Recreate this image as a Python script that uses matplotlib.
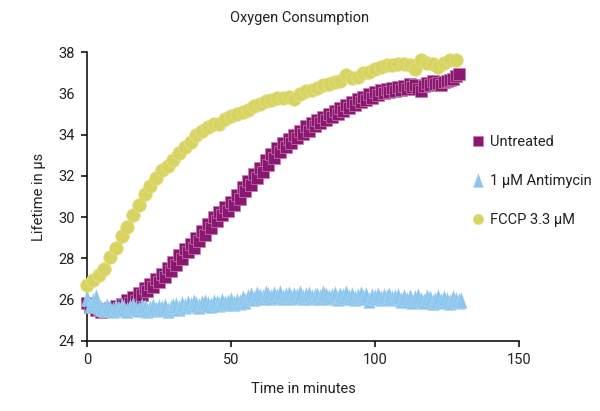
#!/usr/bin/env python3

import numpy as np
import matplotlib
matplotlib.use('Agg')
import matplotlib.pyplot as plt
from matplotlib.lines import Line2D

plt.rcParams['font.family'] = ['Roboto', 'DejaVu Sans']

untreated = [
    25.85, 25.65, 25.70, 25.50, 25.55, 25.40, 25.50, 25.45, 25.60, 25.50,
    25.70, 25.60, 25.80, 25.75, 26.00, 25.85, 26.10, 25.95, 26.30, 26.20,
    26.55, 26.40, 26.75, 26.60, 27.00, 26.85, 27.25, 27.10, 27.55, 27.40,
    27.80, 27.65, 28.15, 27.95, 28.45, 28.30, 28.70, 28.50, 29.00, 28.85,
    29.30, 29.15, 29.65, 29.45, 30.00, 29.80, 30.25, 30.10, 30.50, 30.30,
    30.75, 30.60, 31.05, 30.90, 31.45, 31.25, 31.75, 31.55, 32.10, 31.90,
    32.40, 32.20, 32.75, 32.55, 33.05, 32.85, 33.35, 33.15, 33.60, 33.40,
    33.80, 33.60, 34.00, 33.85, 34.20, 34.05, 34.40, 34.20, 34.55, 34.40,
    34.70, 34.55, 34.85, 34.70, 35.00, 34.85, 35.15, 35.00, 35.30, 35.15,
    35.45, 35.30, 35.60, 35.45, 35.75, 35.60, 35.85, 35.70, 35.95, 35.80,
    36.05, 35.90, 36.15, 36.00, 36.20, 36.05, 36.25, 36.10, 36.30, 36.15,
    36.35, 36.20, 36.45, 36.30, 36.40, 36.20, 36.10, 36.35, 36.50, 36.40,
    36.60, 36.45, 36.50, 36.40, 36.55, 36.60, 36.65, 36.70, 36.85, 36.95,
]

antimycin = [
    26.05, 25.75, 25.95, 26.10, 25.70, 25.60, 25.55, 25.70, 25.60, 25.50,
    25.65, 25.55, 25.70, 25.60, 25.50, 25.65, 25.75, 25.60, 25.55, 25.70,
    25.65, 25.50, 25.60, 25.70, 25.55, 25.65, 25.60, 25.70, 25.50, 25.60,
    25.70, 25.75, 25.60, 25.80, 25.70, 25.85, 25.75, 25.90, 25.80, 25.70,
    25.85, 25.90, 25.80, 25.75, 25.90, 25.85, 25.80, 25.95, 25.85, 25.90,
    26.00, 25.85, 25.95, 25.90, 26.05, 25.95, 26.10, 26.20, 26.05, 26.25,
    26.15, 26.10, 26.30, 26.20, 26.10, 26.25, 26.15, 26.30, 26.10, 26.20,
    26.25, 26.10, 26.20, 26.15, 26.30, 26.10, 26.20, 26.25, 26.10, 26.15,
    26.20, 26.10, 26.30, 26.20, 26.10, 26.15, 26.25, 26.05, 26.20, 26.15,
    26.30, 26.10, 26.20, 26.05, 26.15, 26.25, 26.10, 26.20, 26.00, 26.15,
    26.10, 26.20, 26.05, 26.15, 26.10, 26.20, 26.05, 26.10, 26.15, 26.00,
    26.10, 26.00, 26.10, 25.95, 26.05, 26.15, 26.00, 25.95, 26.10, 26.05,
    25.90, 26.00, 26.10, 25.95, 26.05, 26.00, 25.90, 26.05, 26.00, 25.95,
    26.00,
]

fccp = [
    26.70, 26.95, 27.20, 27.50, 28.05, 28.50, 29.10, 29.50, 30.10, 30.60,
    31.10, 31.50, 31.90, 32.30, 32.50, 32.75, 33.10, 33.40, 33.65, 34.00,
    34.20, 34.35, 34.50, 34.50, 34.75, 34.90, 35.00, 35.10, 35.20, 35.40,
    35.50, 35.65, 35.70, 35.80, 35.80, 35.85, 35.75, 35.95, 36.10, 36.15,
    36.25, 36.40, 36.45, 36.55, 36.60, 36.90, 36.75, 36.80, 37.00, 37.05,
    37.20, 37.30, 37.40, 37.40, 37.45, 37.45, 37.40, 37.20, 37.60, 37.50,
    37.45, 37.30, 37.50, 37.60, 37.60,
]

labels = ['Untreated', '1 µM Antimycin', 'FCCP 3.3 µM']

t_untreated = np.arange(len(untreated))      # 1 Minute Abstand
t_antimycin = np.arange(len(antimycin))
t_fccp = np.arange(len(fccp)) * 2            # 2 Minuten Abstand

fig = plt.figure(figsize=(6, 4.11), dpi=100)
ax = fig.add_axes([0.145, 0.171, 0.72, 0.702])

tri = [(0, 1), (-0.72, -1), (0.72, -1)]
c_unt, e_unt = '#8b1870', '#c77aae'
c_ant, e_ant = '#8cc6ec', '#aad6f3'
c_fc, e_fc = '#d8d462', '#e4e08a'

ax.plot(t_untreated, untreated, 's', ms=8.3, color=c_unt, mec=e_unt, mew=0.5,
        clip_on=False, zorder=2)
ax.plot(t_antimycin, antimycin, marker=tri, ls='none', ms=11.5, color=c_ant,
        mec=e_ant, mew=0.4, clip_on=False, zorder=3)
ax.plot(t_fccp, fccp, 'o', ms=9.8, color=c_fc, mec=e_fc, mew=0.5,
        clip_on=False, zorder=4)

ax.set_xlim(0, 150)
ax.set_ylim(24, 38)
ax.set_xticks([0, 50, 100, 150])
ax.set_yticks(range(24, 39, 2))
ax.spines[['top', 'right']].set_visible(False)
for s in ['left', 'bottom']:
    ax.spines[s].set_linewidth(1.1)
ax.tick_params(length=4, width=1.1, labelsize=10.5, labelcolor='#222', pad=5)
# in der Vorlage fehlt der Strich bei 36
ax.yaxis.get_major_ticks()[6].tick1line.set_visible(False)

ax.set_xlabel('Time in minutes', fontsize=10.5, color='#222', labelpad=11)
ax.set_ylabel('Lifetime in µs', fontsize=10.5, color='#222', labelpad=9)
fig.text(0.5, 0.955, 'Oxygen Consumption', ha='center', va='center',
         fontsize=10.5, color='#222')

handles = [
    Line2D([], [], marker='s', ls='none', ms=7.5, color=c_unt, mec=e_unt, mew=0.5),
    Line2D([], [], marker=tri, ls='none', ms=10, color=c_ant, mec=e_ant, mew=0.4),
    Line2D([], [], marker='o', ls='none', ms=7.5, color=c_fc, mec=e_fc, mew=0.5),
]
ax.legend(handles, labels, loc='upper left',
          bbox_to_anchor=(471 / 600, 1 - 135 / 411),
          bbox_transform=fig.transFigure, frameon=False, fontsize=10.5,
          handlelength=1.0, handletextpad=0.3, labelspacing=1.72,
          borderpad=0, borderaxespad=0, labelcolor='#222')

fig.savefig('out.png', dpi=100)
